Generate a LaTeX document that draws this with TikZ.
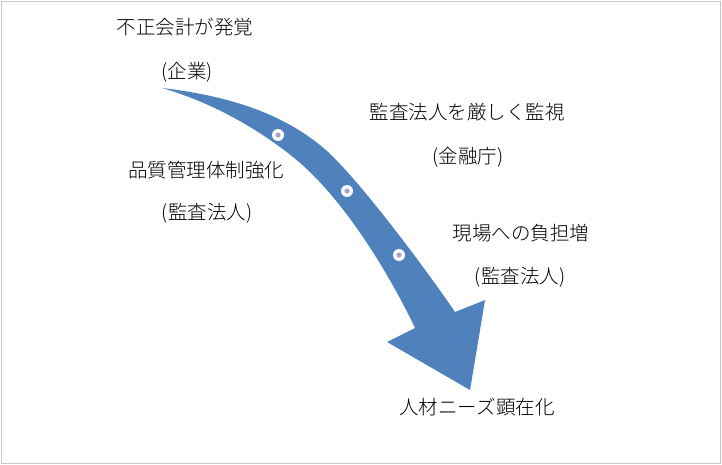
\documentclass[tikz,border=0pt]{standalone}
\usepackage{fontspec}
\setmainfont{Noto Sans CJK JP}[UprightFont=* Light]
\usepackage{tikz}
\usetikzlibrary{positioning}
\definecolor{arrowblue}{RGB}{79,129,189}
\definecolor{framegray}{RGB}{200,200,200}
\definecolor{dotpurple}{RGB}{170,160,205}

\begin{document}
\begin{tikzpicture}[
  x=1pt, y=-1pt,
  label/.style={inner sep=0pt, font=\fontsize{19.5}{22}\selectfont},
  stop/.style={circle, fill=white, inner sep=0pt, minimum size=12pt,
    path picture={\fill[dotpurple] (path picture bounding box.center) circle (2.6pt);}}
]
\useasboundingbox (0,0) rectangle (722,465);
\draw[framegray, line width=1.5pt] (1.5,1.5) rectangle (720.5,463.5);

% curved arrow
\fill[arrowblue] (162,88)
  .. controls (222,95) and (282,111) .. (327,151)
  .. controls (362,183) and (430,275) .. (455,312)
  -- (485,300) -- (470,390) -- (387,342) -- (415,328)
  .. controls (403,302) and (353,205) .. (293,157)
  .. controls (253,125) and (207,101) .. (162,88)
  -- cycle;

\node[stop] (s1) at (278,135) {};
\node[stop] (s2) at (347,191) {};
\node[stop] (s3) at (399,255) {};

\node[label] (disc)   at (185,27)  {不正会計が発覚};
\node[label] (discby) at (187,72)  {(企業)};
\node[label] (fsa)    at (467,112) {監査法人を厳しく監視};
\node[label] (fsaby)  at (468,157) {(金融庁)};
\node[label] (qc)     at (206,170) {品質管理体制強化};
\node[label] (qcby)   at (207,213) {(監査法人)};
\node[label] (load)   at (521,233) {現場への負担増};
\node[label] (loadby) at (520,277) {(監査法人)};
\node[label] (need)   at (477,407) {人材ニーズ顕在化};
\end{tikzpicture}
\end{document}
